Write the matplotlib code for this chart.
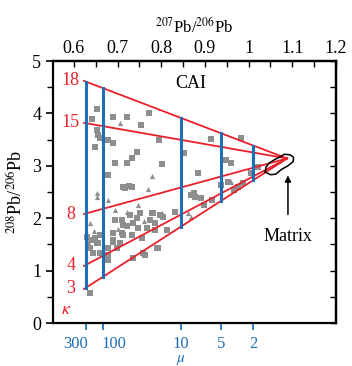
import numpy as np
import matplotlib
matplotlib.use("Agg")
import matplotlib.pyplot as plt
from matplotlib.ticker import MultipleLocator

plt.rcParams['font.family'] = ['Liberation Serif', 'DejaVu Serif']
plt.rcParams['mathtext.fontset'] = 'stix'

# mixing lines (kappa), start point at the CAI end, all go to the matrix
kappa_labels = ["18", "15", "8", "4", "3"]
kappa_y0 = [4.62, 3.82, 2.08, 1.09, 0.65]
line_x0 = 0.623
matrix_end = (1.088, 3.14)

# mu lines
mu_labels = ["300", "100", "10", "5", "2"]
mu_x = [0.628, 0.667, 0.844, 0.936, 1.011]
mu_label_dx = [-8, 8, 0, 0, 0]

# CAI data, squares
sq_x = [0.653, 0.641, 0.690, 0.722, 0.772, 0.754, 0.653, 0.655, 0.648, 0.678,
        0.690, 0.660, 0.745, 0.733, 0.722, 0.694, 0.802, 0.795, 0.678, 0.717,
        0.733, 0.851, 0.913, 0.982, 0.947, 0.959, 0.885, 1.005, 1.021, 0.878,
        0.867, 0.917, 0.975, 0.986, 0.952, 0.936, 0.966, 0.874, 0.890, 0.897,
        0.832, 0.805, 0.782, 0.775, 0.814, 0.791, 0.726, 0.713,
        0.694, 0.710, 0.729, 0.752, 0.779, 0.798, 0.713, 0.736, 0.747, 0.768,
        0.786, 0.690, 0.713, 0.733, 0.690, 0.706, 0.678, 0.630, 0.637, 0.653,
        0.644, 0.660, 0.793, 0.736, 0.759, 0.678, 0.699, 0.648, 0.660, 0.763,
        0.756, 0.786, 0.710, 0.690, 0.655, 0.641, 0.678, 0.637, 0.722, 0.745]
sq_y = [4.08, 3.89, 3.93, 3.93, 4.01, 3.78, 3.68, 3.58, 3.36, 3.49,
        3.44, 3.53, 3.26, 3.15, 3.05, 3.05, 3.03, 3.49, 2.82, 2.58,
        2.60, 3.24, 3.51, 3.53, 3.11, 3.05, 2.86, 2.86, 2.98, 2.40,
        2.44, 2.35, 2.60, 2.67, 2.69, 2.63, 2.54, 2.48, 2.39, 2.25,
        2.12, 2.02, 2.10, 1.97, 1.77, 1.43, 2.61, 2.60,
        1.97, 1.97, 2.06, 2.10, 2.10, 2.06, 1.87, 1.91, 1.81, 1.81,
        1.91, 1.72, 1.68, 1.68, 1.55, 1.53, 1.43, 1.64, 1.43, 1.53,
        1.34, 1.34, 1.43, 1.24, 1.34, 1.30, 1.43, 1.62, 1.68, 1.30,
        1.62, 1.77, 1.72, 1.58, 1.53, 1.58, 1.20, 0.57, 1.85, 2.00]

# CAI data, triangles
tr_x = [0.706, 0.779, 0.770, 0.678, 0.653, 0.653, 0.694, 0.722, 0.747, 0.802,
        0.637, 0.632, 0.860, 0.867, 0.959, 0.700, 0.760, 0.645]
tr_y = [3.82, 2.81, 2.56, 2.35, 2.48, 2.40, 2.16, 2.12, 2.25, 2.10,
        1.91, 1.55, 2.10, 2.02, 2.69, 1.80, 1.95, 1.75]

# matrix field outline
mat_x = [1.038, 1.050, 1.062, 1.075, 1.090, 1.102, 1.103, 1.095, 1.082,
         1.072, 1.060, 1.048, 1.040, 1.038]
mat_y = [2.88, 2.83, 2.84, 2.93, 3.00, 3.08, 3.16, 3.21, 3.22,
         3.17, 3.12, 3.06, 2.98, 2.88]

red = "#e8202a"
blue = "#1f6fb8"
grey = "#8e8e8e"

fig = plt.figure(figsize=(3.52, 3.66), dpi=100)
ax = fig.add_axes((53 / 352, 43 / 366, 283 / 352, 262 / 366))
ax.set_xlim(0.552, 1.2)
ax.set_ylim(0, 5)

ax.scatter(sq_x, sq_y, marker='s', s=22, color=grey, linewidths=0, zorder=2)
ax.scatter(tr_x, tr_y, marker='^', s=14, color=grey, linewidths=0, zorder=2)

# red kappa lines
lines_x = []
lines_y = []
for y0 in kappa_y0:
    xs = [line_x0, matrix_end[0]]
    ys = [y0, matrix_end[1]]
    ax.plot(xs, ys, color=red, lw=1.3, zorder=3)
    lines_x.append(xs)
    lines_y.append(ys)
for lab, y0 in zip(kappa_labels, kappa_y0):
    ax.text(0.593, y0, lab, color=red, fontsize=13, ha='center', va='center')
ax.text(0.582, 0.25, r"$\kappa$", color=red, fontsize=13, ha='center', va='center')

# blue mu lines between kappa=3 and kappa=18 lines
for x in mu_x:
    ytop = np.interp(x, lines_x[0], lines_y[0])
    ybot = np.interp(x, lines_x[-1], lines_y[-1])
    ax.plot([x, x], [ybot, ytop], color=blue, lw=2.2, zorder=4)

ax.plot(mat_x, mat_y, color='k', lw=1.1, zorder=5)
ax.annotate("", xy=(1.09, 2.87), xytext=(1.09, 2.02),
            arrowprops=dict(arrowstyle='-|>', color='k', lw=1.1,
                            mutation_scale=9))
ax.text(1.09, 1.66, "Matrix", fontsize=13, ha='center', va='center')
ax.text(0.867, 4.58, "CAI", fontsize=13, ha='center', va='center')

# bottom axis: mu ticks
ax.set_xticks(mu_x)
ax.set_xticklabels([])
ax.tick_params(axis='x', which='major', direction='out', length=5,
               width=1.3, color=blue)
for x, lab, dx in zip(mu_x, mu_labels, mu_label_dx):
    ax.annotate(lab, xy=(x, 0), xycoords='data', xytext=(dx, -9),
                textcoords='offset points', ha='center', va='top',
                color=blue, fontsize=12, annotation_clip=False)
ax.annotate(r"$\mu$", xy=(0.844, 0), xytext=(0, -21.5),
            textcoords='offset points', ha='center', va='top',
            color=blue, fontsize=11, annotation_clip=False)

# left axis
ax.yaxis.set_major_locator(MultipleLocator(1))
ax.yaxis.set_minor_locator(MultipleLocator(0.5))
ax.tick_params(axis='y', which='major', direction='out', length=5, width=1.2,
               labelsize=13)
ax.tick_params(axis='y', which='minor', direction='out', length=4, width=1.0)
ax.set_ylabel(r"$^{208}$Pb/$^{206}$Pb", fontsize=13, labelpad=4)

# right axis, inward ticks
sec_r = ax.secondary_yaxis('right')
sec_r.yaxis.set_major_locator(MultipleLocator(0.5))
sec_r.tick_params(direction='in', length=4, width=1.0, labelright=False)

# top axis
sec_t = ax.secondary_xaxis('top')
sec_t.set_xticks([0.6, 0.7, 0.8, 0.9, 1.0, 1.1, 1.2])
sec_t.set_xticklabels(["0.6", "0.7", "0.8", "0.9", "1", "1.1", "1.2"])
sec_t.xaxis.set_minor_locator(MultipleLocator(0.05))
sec_t.tick_params(which='major', direction='in', length=4, width=1.0,
                  labelsize=13, pad=3)
sec_t.tick_params(which='minor', direction='in', length=4, width=1.0)
sec_t.set_xlabel(r"$^{207}$Pb/$^{206}$Pb", fontsize=12, labelpad=5)

for sp in ax.spines.values():
    sp.set_linewidth(1.6)
sec_r.spines['right'].set_linewidth(1.6)
sec_t.spines['top'].set_linewidth(1.6)

fig.savefig("out.png", dpi=100)
